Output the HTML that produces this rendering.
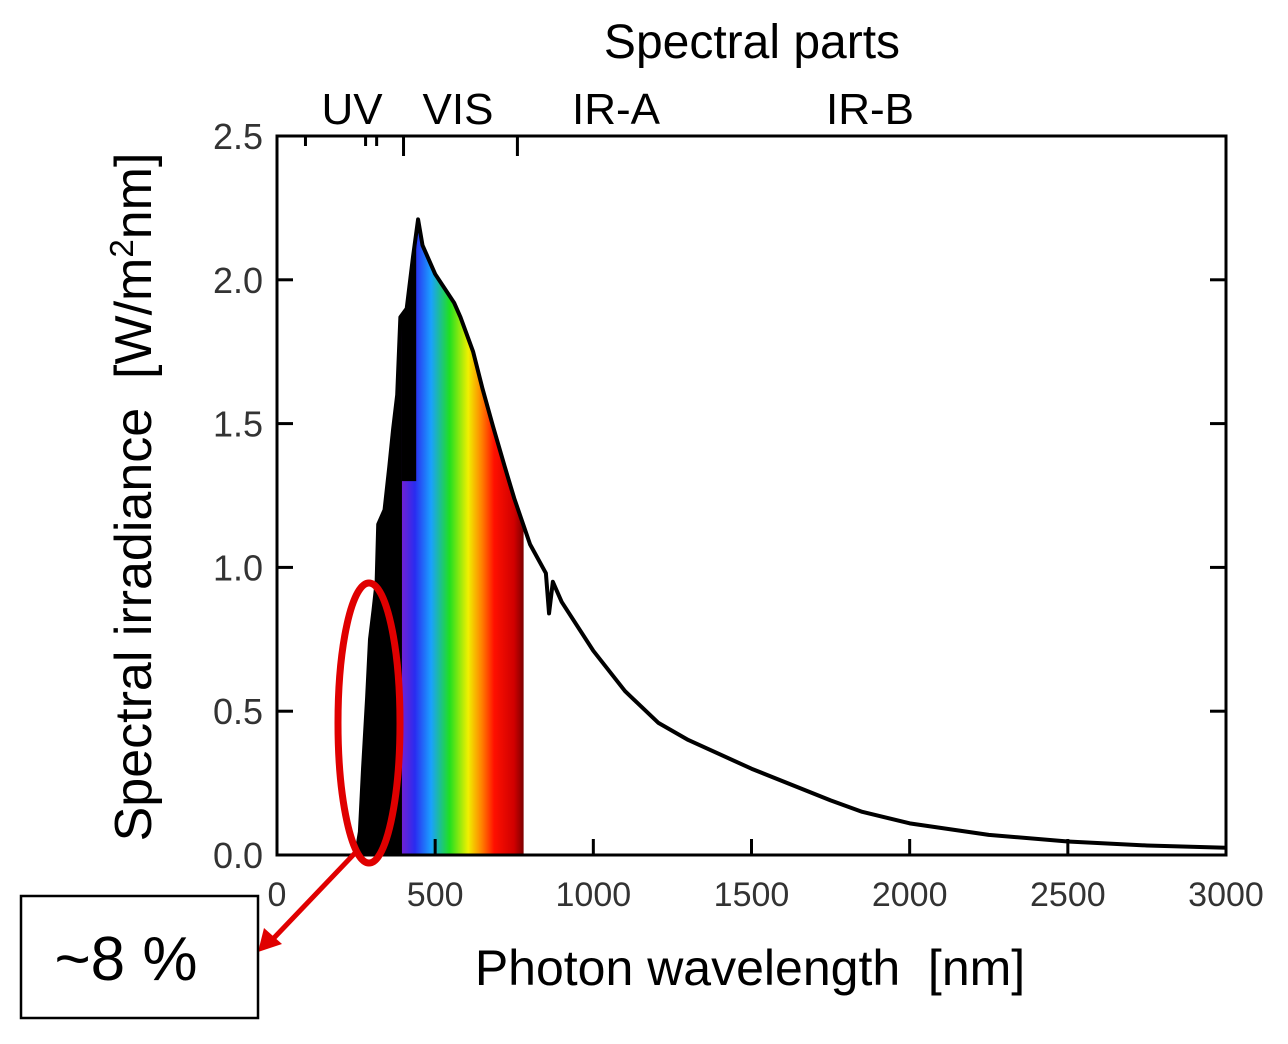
<!DOCTYPE html>
<html><head><meta charset="utf-8"><style>
body{margin:0;background:#fff;}
svg{display:block;font-family:"Liberation Sans",Arial,sans-serif;}
</style></head><body>
<svg id="c" width="1288" height="1044" viewBox="0 0 1288 1044">
<defs>
<linearGradient id="rb" gradientUnits="userSpaceOnUse" x1="400" y1="0" x2="524" y2="0">
<stop offset="0" stop-color="#7a1fd0"/><stop offset="0.12" stop-color="#2a2cf0"/>
<stop offset="0.25" stop-color="#1aa0ff"/><stop offset="0.4" stop-color="#20e020"/>
<stop offset="0.55" stop-color="#f0f000"/><stop offset="0.66" stop-color="#ff8000"/>
<stop offset="0.76" stop-color="#ff1000"/><stop offset="0.92" stop-color="#d00000"/><stop offset="1" stop-color="#7a0000"/>
</linearGradient>
<clipPath id="cp"><path id="cpp"/></clipPath>
</defs>
<g id="plot"></g>
<text x="752" y="58" font-size="48" text-anchor="middle">Spectral parts</text>
<text x="352" y="124" font-size="44" text-anchor="middle">UV</text>
<text x="458" y="124" font-size="44" text-anchor="middle">VIS</text>
<text x="616" y="124" font-size="44" text-anchor="middle">IR-A</text>
<text x="870" y="124" font-size="44" text-anchor="middle">IR-B</text>
<text x="750" y="985" font-size="50" text-anchor="middle" xml:space="preserve">Photon wavelength  [nm]</text>
<text transform="translate(151,497) rotate(-90)" font-size="52" text-anchor="middle" xml:space="preserve">Spectral irradiance  [W/m<tspan baseline-shift="super" font-size="33">2</tspan>nm]</text>
<ellipse cx="369" cy="723" rx="31" ry="140" fill="none" stroke="#e00000" stroke-width="7"/>
<line x1="356" y1="852" x2="272" y2="940" stroke="#e00000" stroke-width="5"/>
<polygon points="258,952 264,928 282,944" fill="#e00000"/>
<rect x="21" y="896" width="237" height="122" fill="#fff" stroke="#000" stroke-width="2.5"/>
<text x="126" y="980" font-size="62" text-anchor="middle">~8 %</text>
</svg>
<script>
const wavelengths=[250,262,272,285,294,305,315,320,340,355,367,380,390,410,430,446,460,480,500,530,560,580,620,650,683,720,750,775,800,850,860,872,900,1000,1100,1205,1300,1400,1500,1750,1850,2000,2250,2500,2750,3000];
const irradiance=[0.0,0.08,0.3,0.55,0.75,0.85,0.95,1.15,1.2,1.35,1.48,1.6,1.87,1.9,2.08,2.21,2.12,2.07,2.02,1.97,1.92,1.87,1.75,1.62,1.49,1.35,1.24,1.16,1.08,0.98,0.84,0.95,0.88,0.71,0.57,0.46,0.40,0.35,0.30,0.19,0.15,0.11,0.07,0.047,0.033,0.025];
const yTicks=[0,0.5,1.0,1.5,2.0,2.5];
const yTickLabels=["0.0","0.5","1.0","1.5","2.0","2.5"];
const xTicks=[0,500,1000,1500,2000,2500,3000];
const xTickLabels=["0","500","1000","1500","2000","2500","3000"];
const topTicks=[90,280,315,400,760];
const L=277,R=1226,T=136,B=855;
const sx=v=>L+(v/3000)*(R-L);
const sy=v=>B-(v/2.5)*(B-T);
const NS="http://www.w3.org/2000/svg";
const g=document.getElementById('plot');
function mk(t,a){const e=document.createElementNS(NS,t);for(const k in a)e.setAttribute(k,a[k]);g.appendChild(e);return e;}
let fp=`M${sx(250)},${B}`;
wavelengths.forEach((w,i)=>{if(w<=775)fp+=` L${sx(w)},${sy(irradiance[i])}`;});
fp+=` L${sx(780)},${sy(1.14)} L${sx(780)},${B} Z`;
document.getElementById('cpp').setAttribute('d',fp);
const fr=mk('rect',{x:sx(390),y:T,width:sx(780)-sx(390),height:B-T,fill:'url(#rb)','clip-path':'url(#cp)'});


const fb=mk('rect',{x:sx(250),y:T,width:sx(395)-sx(250),height:B-T,fill:'#000','clip-path':'url(#cp)'});


const fb2=mk('rect',{x:sx(395),y:T,width:sx(440)-sx(395),height:sy(1.3)-T,fill:'#000','clip-path':'url(#cp)'});


let d='';
wavelengths.forEach((w,i)=>{d+=(i?' L':'M')+sx(w)+','+sy(irradiance[i]);});
const ln=mk('path',{d:d,fill:'none',stroke:'#000','stroke-width':4,'stroke-linejoin':'round'});


const fr2=mk('rect',{x:L,y:T,width:R-L,height:B-T,fill:'none',stroke:'#000','stroke-width':3});


yTicks.forEach((v,i)=>{
  const y=sy(v);
  const t1=mk('line',{x1:L,x2:L+16,y1:y,y2:y,stroke:'#000','stroke-width':3});
  
  
  const t2=mk('line',{x1:R-16,x2:R,y1:y,y2:y,stroke:'#000','stroke-width':3});
  
  
  const tx=mk('text',{x:263,y:y+13,'font-size':36,'text-anchor':'end',fill:'#333'});
  tx.textContent=yTickLabels[i];
  
  
});
xTicks.forEach((v,i)=>{
  const x=sx(v);
  const t1=mk('line',{x1:x,x2:x,y1:B-16,y2:B,stroke:'#000','stroke-width':3});
  
  
  const tx=mk('text',{x:x,y:906,'font-size':34,'text-anchor':'middle',fill:'#333'});
  tx.textContent=xTickLabels[i];
  
  
});
topTicks.forEach(v=>{
  const x=sx(v);
  const t=mk('line',{x1:x,x2:x,y1:T,y2:T+(v===400||v===760?20:10),stroke:'#000','stroke-width':3});
  
  
});
</script>
</body></html>
